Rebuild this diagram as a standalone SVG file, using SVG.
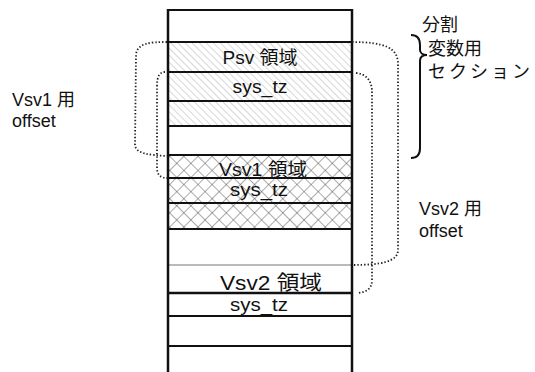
<svg xmlns="http://www.w3.org/2000/svg" width="535" height="372" viewBox="0 0 535 372">
<style>
text{font-family:"Liberation Sans","Noto Sans CJK JP",sans-serif;fill:#111}
.row{stroke:#111;stroke-width:2;fill:none}
.thin{stroke:#777;stroke-width:1.2;fill:none}
.dot{stroke:#222;stroke-width:1.8;fill:none;stroke-dasharray:1.4 2;stroke-linecap:butt}
.lbl{font-size:18px}
.cell{font-size:18px;text-anchor:middle}
</style>
<defs>
<pattern id="diag" width="5" height="5" patternUnits="userSpaceOnUse" patternTransform="rotate(-45)">
<line x1="0" y1="0" x2="0" y2="5" stroke="#9a9a9a" stroke-width="0.8"/>
</pattern>
<pattern id="cross" width="10" height="10" patternUnits="userSpaceOnUse" patternTransform="rotate(45)">
<line x1="0" y1="0" x2="0" y2="10" stroke="#444" stroke-width="0.9"/>
<line x1="0" y1="0" x2="10" y2="0" stroke="#444" stroke-width="0.9"/>
</pattern>
</defs>

<g id="memory">
<rect x="167" y="10" width="185" height="370" fill="#fff"/>
<rect id="psv-area" x="167" y="42" width="185" height="84" fill="url(#diag)"/>
<rect id="vsv1-area" x="167" y="155" width="185" height="74" fill="url(#cross)"/>
<line class="row" x1="167" y1="10" x2="352" y2="10"/>
<line class="row" x1="167" y1="42" x2="352" y2="42"/>
<line class="row" x1="167" y1="72" x2="352" y2="72"/>
<line class="row" x1="167" y1="101" x2="352" y2="101"/>
<line class="row" x1="167" y1="126" x2="352" y2="126"/>
<line class="row" x1="167" y1="155" x2="352" y2="155"/>
<line class="row" x1="167" y1="178" x2="352" y2="178"/>
<line class="row" x1="167" y1="203" x2="352" y2="203"/>
<line class="row" x1="167" y1="229" x2="352" y2="229"/>
<line class="thin" x1="167" y1="265" x2="352" y2="265"/>
<line class="row" x1="167" y1="293" x2="352" y2="293" style="stroke-width:2.5"/>
<line class="row" x1="167" y1="316" x2="352" y2="316"/>
<line class="row" x1="167" y1="346" x2="352" y2="346"/>
<line class="row" x1="168" y1="9" x2="168" y2="372" style="stroke-width:2.5"/>
<line class="row" x1="352" y1="9" x2="352" y2="372" style="stroke-width:2.5"/>
</g>

<g id="psv"><text class="cell" x="260" y="64" textLength="75" lengthAdjust="spacingAndGlyphs">Psv 領域</text></g>
<g id="psv-systz"><text class="cell" x="260" y="93" textLength="55" lengthAdjust="spacingAndGlyphs">sys_tz</text></g>
<g id="vsv1"><text class="cell" x="263" y="176" textLength="88" lengthAdjust="spacingAndGlyphs">Vsv1 領域</text></g>
<g id="vsv1-systz"><text class="cell" x="259" y="196" textLength="58" lengthAdjust="spacingAndGlyphs">sys_tz</text></g>
<g id="vsv2"><text class="cell" x="271" y="290" style="font-size:20px" textLength="102" lengthAdjust="spacingAndGlyphs">Vsv2 領域</text></g>
<g id="vsv2-systz"><text class="cell" x="259" y="311" textLength="58" lengthAdjust="spacingAndGlyphs">sys_tz</text></g>

<g id="connectors">
<path class="dot" d="M167,42 C150,42 137,43 136,55 L135,145 C136,154 150,155 167,156"/>
<path class="dot" d="M165,72 C160,72 157,76 157,86 L157,168 C157,176 162,178 167,178"/>
<path class="dot" d="M352,42 C385,42 398,48 398,64 L398,250 C398,262 380,265 352,265"/>
<path class="dot" d="M356,73 C366,74 371,80 372,90 L372,280 C372,290 365,292 358,293"/>
<path id="brace" d="M411,35 C417,35 420,39 420,45 L420,50 C420,53 423,55 427,55 C423,55 420,57 420,61 L420,148 C420,154 417,158 411,158" fill="none" stroke="#111" stroke-width="2"/>
</g>

<g id="label-section">
<text class="lbl" x="422" y="31">分割</text>
<text class="lbl" x="428" y="55">変数用</text>
<text class="lbl" x="428" y="78" letter-spacing="3">セクション</text>
</g>
<g id="label-vsv1">
<text class="lbl" x="12" y="106">Vsv1 用</text>
<text class="lbl" x="12" y="127">offset</text>
</g>
<g id="label-vsv2">
<text class="lbl" x="419" y="215">Vsv2 用</text>
<text class="lbl" x="419" y="237">offset</text>
</g>
</svg>
